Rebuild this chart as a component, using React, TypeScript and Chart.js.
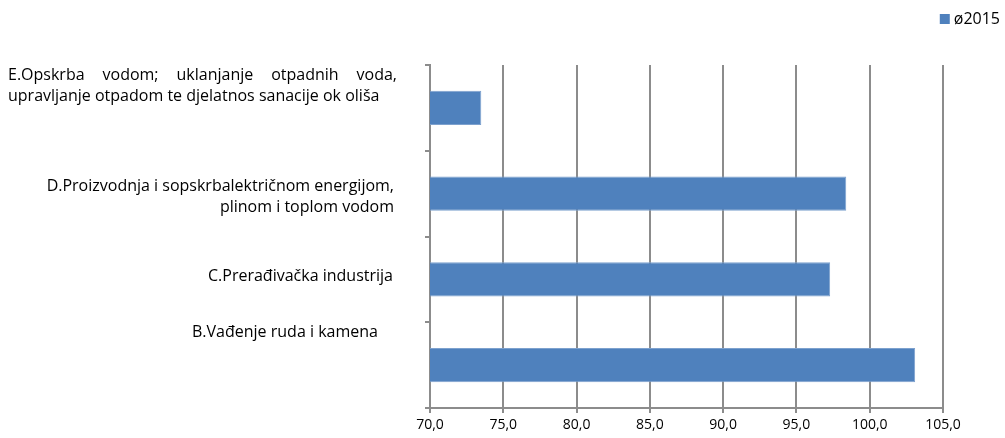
import React, { useEffect, useRef } from "react";
import { Chart, registerables } from "chart.js";

Chart.register(...registerables);

// ---- data ----
const categoryLines: string[][] = [
  [
    "E.Opskrba vodom; uklanjanje otpadnih voda,",
    "upravljanje otpadom te djelatnos sanacije ok oliša",
  ],
  ["D.Proizvodnja i sopskrbalektričnom energijom,", "plinom i toplom vodom"],
  ["C.Prerađivačka industrija"],
  ["B.Vađenje ruda i kamena"],
];
const seriesLabel = "ø2015";
const seriesValues = [73.5, 98.4, 97.3, 103.1];
const axisMin = 70;
const axisMax = 105;
const axisStep = 5;

// ---- style ----
const BAR_COLOR = "#4F81BD";
const AXIS_COLOR = "#8C8C8C";
const FONT = '"Open Sans", "DejaVu Sans", sans-serif';
const LABEL_SIZE = 16;
const labelLayout = [
  { align: "left", x: 8, justifyTo: 397, dy: -22 },
  { align: "right", x: 394, justifyTo: 0, dy: 3 },
  { align: "right", x: 393, justifyTo: 0, dy: -3 },
  { align: "left", x: 192, justifyTo: 0, dy: -33 },
];

const labelPlugin = {
  id: "categoryLabels",
  afterDraw(chart: any) {
    const ctx = chart.ctx;
    const yScale = chart.scales.y;
    ctx.save();
    ctx.fillStyle = "#000";
    ctx.font = `${LABEL_SIZE}px ${FONT}`;
    ctx.textBaseline = "middle";
    const lh = 21;
    categoryLines.forEach((lines, i) => {
      const lay = labelLayout[i];
      const cy = yScale.getPixelForValue(i) + lay.dy;
      const y0 = cy - ((lines.length - 1) * lh) / 2;
      lines.forEach((line, j) => {
        const y = y0 + j * lh;
        if (lay.justifyTo && j < lines.length - 1) {
          const words = line.split(" ");
          const widths = words.map((w) => ctx.measureText(w).width);
          const total = widths.reduce((a, b) => a + b, 0);
          const gap = (lay.justifyTo - lay.x - total) / (words.length - 1);
          let x = lay.x;
          ctx.textAlign = "left";
          words.forEach((w, k) => {
            ctx.fillText(w, x, y);
            x += widths[k] + gap;
          });
        } else {
          ctx.textAlign = lay.align as CanvasTextAlign;
          ctx.fillText(line, lay.x, y);
        }
      });
    });
    // legend
    const ds = chart.data.datasets[0];
    ctx.font = `${LABEL_SIZE}px ${FONT}`;
    ctx.textAlign = "right";
    const tw = ctx.measureText(ds.label).width;
    const textRight = 1000;
    const ly = 19;
    ctx.fillText(ds.label, textRight, ly);
    ctx.fillStyle = ds.backgroundColor;
    ctx.fillRect(textRight - tw - 14, ly - 5, 10, 10);
    ctx.restore();
  },
};

export default function App() {
  const ref = useRef<HTMLCanvasElement | null>(null);
  useEffect(() => {
    document.body.style.margin = "0";
    const chart = new Chart(ref.current as HTMLCanvasElement, {
      type: "bar",
      data: {
        labels: categoryLines.map((l) => l.join(" ")),
        datasets: [
          {
            label: seriesLabel,
            data: seriesValues,
            backgroundColor: BAR_COLOR,
            borderColor: "#7DA1CE",
            borderWidth: 1,
            categoryPercentage: 1,
            barPercentage: 0.4,
          },
        ],
      },
      options: {
        indexAxis: "y",
        responsive: false,
        animation: false,
        layout: { padding: { top: 65, right: 62, bottom: 0, left: 0 } },
        plugins: { legend: { display: false }, tooltip: { enabled: false } },
        scales: {
          x: {
            min: axisMin,
            max: axisMax,
            ticks: {
              stepSize: axisStep,
              color: "#000",
              font: { family: FONT, size: 14 },
              padding: 4,
              callback: (v: any) => Number(v).toFixed(1).replace(".", ","),
            },
            grid: { color: AXIS_COLOR, tickLength: 5, lineWidth: 2 },
            border: { color: AXIS_COLOR, width: 2 },
            afterFit: (s: any) => {
              s.height = 30;
            },
          },
          y: {
            ticks: { display: false },
            grid: {
              color: AXIS_COLOR,
              lineWidth: 2,
              drawOnChartArea: false,
              drawTicks: true,
              tickLength: 5,
              offset: true,
            },
            border: { color: AXIS_COLOR, width: 2 },
            afterFit: (s: any) => {
              s.width = 430;
            },
          },
        },
      },
      plugins: [labelPlugin],
    } as any);
    return () => chart.destroy();
  }, []);
  return (
    <div style={{ position: "absolute", left: 0, top: 0, width: 1005, height: 438 }}>
      <canvas ref={ref} width={1005} height={438} />
    </div>
  );
}
